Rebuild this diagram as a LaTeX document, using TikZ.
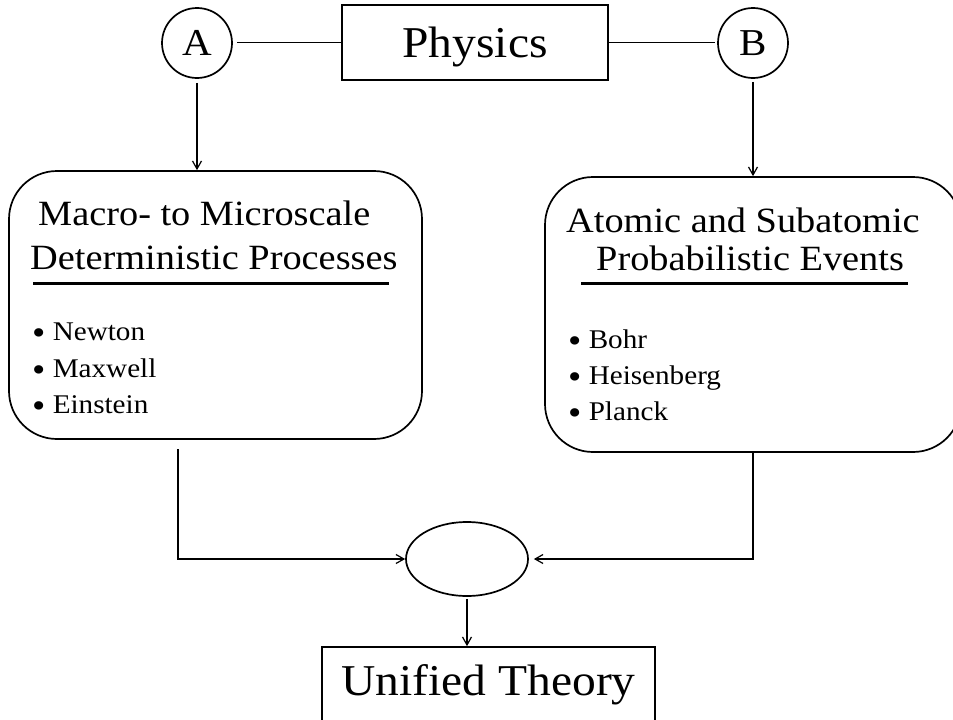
\documentclass[tikz,border=0pt]{standalone}
\usepackage{fontspec}
\setmainfont{Liberation Serif}[FakeStretch=1.08]
\usetikzlibrary{arrows.meta,shapes.geometric}

% list bullet, a little larger than the font's own
\newcommand{\itemdot}{\raisebox{-0.15em}{\scalebox{1.3}{\textbullet}}}

\tikzset{
  conn/.style={line width=1.2pt},
  arr/.style={conn, -{Straight Barb[length=8pt,width=9pt,line width=1.2pt]}},
  shapeline/.style={draw, line width=1.7pt},
  bigtxt/.style={font=\fontsize{44}{50}\selectfont},
  headtxt/.style={font=\fontsize{35.5}{42}\selectfont, inner sep=0pt, anchor=base west},
  itemtxt/.style={font=\fontsize{27}{32}\selectfont, inner sep=0pt, anchor=base west},
  letter/.style={shapeline, circle, minimum size=70pt, inner sep=0pt, font=\fontsize{38}{42}\selectfont},
  panel/.style={shapeline, rectangle, rounded corners=48pt, inner sep=0pt}
}

\begin{document}
\begin{tikzpicture}[x=1pt, y=-1pt]
  \clip (0,0) rectangle (953,720);
  \fill[white] (0,0) rectangle (953,720);

  % top row
  \node[shapeline, bigtxt, minimum width=266pt, minimum height=75pt, inner sep=0pt,
        text height=38pt, text depth=9pt] (phys) at (475,42.5) {Physics};
  \node[letter] (A) at (197,43) {A};
  \node[letter] (B) at (753,43) {B};
  \draw[conn, shorten >=4pt] (phys.west) -- (phys.west -| A.east);
  \draw[conn, shorten >=2pt] (phys.east) -- (phys.east -| B.west);

  % the two panels
  \node[panel, minimum width=413pt, minimum height=268pt] (leftbox) at (215.5,305) {};
  \node[panel, minimum width=416pt, minimum height=275pt] (rightbox) at (753,314.5) {};

  \draw[arr, shorten <=4pt] (A.south) -- (A.south |- leftbox.north);
  \draw[arr, shorten <=3pt] (B.south) -- (B.south |- rightbox.north);

  % left panel text
  \node[headtxt] (lh1) at (38,225) {Macro- to Microscale};
  \node[headtxt] (lh2) at (30,269) {Deterministic Processes};
  \draw[line width=3pt] (33,283) -- (389,283);
  \node[itemtxt] (l1) at (32,340) {\itemdot{} Newton};
  \node[itemtxt] (l2) at (32,377) {\itemdot{} Maxwell};
  \node[itemtxt] (l3) at (32,413) {\itemdot{} Einstein};

  % right panel text
  \node[headtxt] (rh1) at (566,232) {Atomic and Subatomic};
  \node[headtxt] (rh2) at (596,270) {Probabilistic Events};
  \draw[line width=3pt] (581,283) -- (908,283);
  \node[itemtxt] (r1) at (568,348) {\itemdot{} Bohr};
  \node[itemtxt] (r2) at (568,384) {\itemdot{} Heisenberg};
  \node[itemtxt] (r3) at (568,420) {\itemdot{} Planck};

  % merge and result
  \node[shapeline, ellipse, minimum width=122pt, minimum height=74pt, inner sep=0pt] (ell) at (467,559) {};
  \node[shapeline, bigtxt, minimum width=333pt, minimum height=90pt, inner sep=0pt,
        text height=20pt, text depth=14pt] (uni) at (488.5,692) {Unified Theory};

  \coordinate (lstart) at (178,449);
  \draw[arr] (lstart) |- (ell.west);
  \draw[arr, shorten >=5pt] (rightbox.south) |- (ell.east);
  \draw[arr, shorten <=2pt] (ell.south) -- (ell.south |- uni.north);
\end{tikzpicture}
\end{document}
